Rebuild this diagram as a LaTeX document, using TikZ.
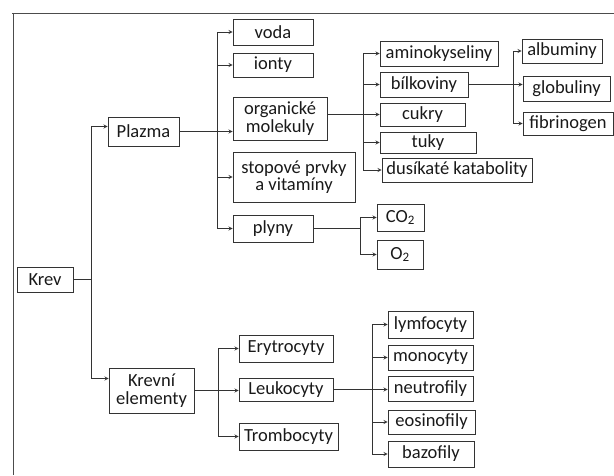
\documentclass[tikz,border=0pt]{standalone}
\usepackage{fontspec}
\setmainfont{Carlito}
\usepackage{tikz}
\usepgflibrary{arrows}
\usetikzlibrary{calc}

\begin{document}
\begin{tikzpicture}[x=1pt, y=-1pt, >=stealth,
  box/.style={draw=black!80, line width=.9pt, inner sep=1pt, align=center, text=black!90,
    font=\fontsize{18.5}{19.5}\selectfont},
  link/.style={draw=black!80, line width=.8pt}]
\useasboundingbox (0,0) rectangle (614,475);
% frame of the page
\draw[black!70, line width=1pt] (12,13) -- (614,13);
\draw[black!70, line width=1pt] (13,13) -- (13,475);

\node[box, minimum width=56, minimum height=25] (krev) at (45,279.5) {Krev};
\node[box, minimum width=71, minimum height=29] (plazma) at (143.5,131.5) {Plazma};
\node[box, minimum width=85, minimum height=45] (krevel) at (151.5,390.5) {Krevní\\[-2pt] elementy};
%plasma
\node[box, minimum width=80, minimum height=26] (voda) at (273,32) {voda};
\node[box, minimum width=80, minimum height=24] (ionty) at (273,65) {ionty};
\node[box, minimum width=94, minimum height=43] (organic) at (280,118.5) {organické\\[-2pt] molekuly};
\node[box, minimum width=122, minimum height=50] (stopove) at (294,177) {stopové prvky\\[-2pt] a vitamíny};
\node[box, minimum width=80, minimum height=27] (plyny) at (273,228.5) {plyny};
\node[box, minimum width=118, minimum height=25] (amino) at (439,53.5) {aminokyseliny};
\node[box, minimum width=88, minimum height=25] (bilk) at (424,84.5) {bílkoviny};
\node[box, minimum width=85, minimum height=23] (cukry) at (422.5,114.5) {cukry};
\node[box, minimum width=96, minimum height=21] (tuky) at (428,142.5) {tuky};
\node[box, minimum width=150, minimum height=24] (katab) at (457,170) {dusíkaté katabolity};
\node[box, minimum width=80, minimum height=24] (album) at (562,51) {albuminy};
\node[box, minimum width=87, minimum height=25] (glob) at (566.5,88.5) {globuliny};
\node[box, minimum width=90, minimum height=23] (fibr) at (568,123.5) {fibrinogen};
\node[box, minimum width=47, minimum height=27] (co2) at (400.5,217.5) {CO\textsubscript{2}};
\node[box, minimum width=46, minimum height=29] (o2) at (400,254.5) {O\textsubscript{2}};
%elements
\node[box, minimum width=94, minimum height=27] (eryt) at (286,348.5) {Erytrocyty};
\node[box, minimum width=94, minimum height=23] (leuko) at (286,389.5) {Leukocyty};
\node[box, minimum width=99, minimum height=27] (tromb) at (288.5,436.5) {Trombocyty};
\node[box, minimum width=85, minimum height=27] (lymf) at (430.5,324.5) {lymfocyty};
\node[box, minimum width=85, minimum height=25] (mono) at (430.5,357.5) {monocyty};
\node[box, minimum width=85, minimum height=25] (neutr) at (430.5,388.5) {neutrofily};
\node[box, minimum width=87, minimum height=24] (eosin) at (431.5,422) {eosinofily};
\node[box, minimum width=86, minimum height=26] (bazo) at (431,454) {bazofily};

\coordinate (kS) at (91,0);
\coordinate (pS) at (217,0);
\coordinate (oS) at (363,0);
\coordinate (bS) at (513,0);
\coordinate (gS) at (360,0);
\coordinate (eS) at (218,0);
\coordinate (lS) at (372,0);

\draw[link] (krev.east) -- (kS |- krev.east);
\draw[link] ($(kS |- plazma.west)+(0,-5)$) -- ($(kS |- krevel.west)+(0,-12)$);
\draw[link,->] ($(kS |- plazma.west)+(0,-5)$) -- ($(plazma.west)+(0,-5)$);
\draw[link,->] ($(kS |- krevel.west)+(0,-12)$) -- ($(krevel.west)+(0,-12)$);

\draw[link,->] (plazma.east) -- (plazma.east -| organic.west);
\draw[link] (pS |- voda.west) -- (pS |- plyny.west);
\foreach \n in {voda,ionty,stopove,plyny}
  \draw[link,->] (pS |- \n.west) -- (\n.west);

\draw[link,->] (organic.east |- cukry.west) -- (cukry.west);
\draw[link] (oS |- amino.west) -- (oS |- katab.west);
\foreach \n in {amino,bilk,tuky,katab}
  \draw[link,->] (oS |- \n.west) -- (\n.west);

\draw[link,->] (bilk.east) -- (bilk.east -| glob.west);
\draw[link] (bS |- album.west) -- (bS |- fibr.west);
\foreach \n in {album,fibr}
  \draw[link,->] (bS |- \n.west) -- (\n.west);

\draw[link] (plyny.east) -- (gS |- plyny.east);
\draw[link] (gS |- co2.west) -- (gS |- o2.west);
\foreach \n in {co2,o2}
  \draw[link,->] (gS |- \n.west) -- (\n.west);

\draw[link,->] (krevel.east) -- (krevel.east -| leuko.west);
\draw[link] (eS |- eryt.west) -- (eS |- tromb.west);
\foreach \n in {eryt,tromb}
  \draw[link,->] (eS |- \n.west) -- (\n.west);

\draw[link,->] (leuko.east) -- (leuko.east -| neutr.west);
\draw[link] (lS |- lymf.west) -- (lS |- bazo.west);
\foreach \n in {lymf,mono,eosin,bazo}
  \draw[link,->] (lS |- \n.west) -- (\n.west);
\end{tikzpicture}
\end{document}
